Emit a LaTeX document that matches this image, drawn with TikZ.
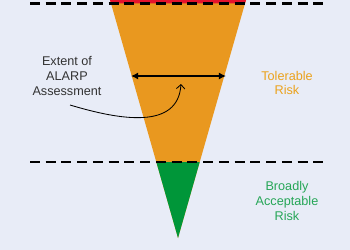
\documentclass[tikz,border=0pt]{standalone}
\usepackage{fontspec}
\setmainfont{Liberation Sans}
\usepackage{tikz}
\usetikzlibrary{arrows.meta,positioning}

\definecolor{bgcol}{HTML}{E8ECF7}
\definecolor{tolorange}{HTML}{E9981F}
\definecolor{accgreen}{HTML}{009639}
\definecolor{intred}{HTML}{E4132D}
\definecolor{txtgray}{HTML}{333333}

\tikzset{
  zoneline/.style={line width=1.5pt,dash pattern=on 7pt off 4.2pt},
  zonelabel/.style={align=center,font=\fontsize{9}{10.6}\selectfont},
}

\begin{document}
\begin{tikzpicture}[x=0.025cm,y=-0.025cm]
  \fill[bgcol] (0,0) rectangle (350,250);
  \useasboundingbox (0,0) rectangle (350,250);
  % funnel of risk regions
  \fill[tolorange] (110,0) -- (246,0) -- (178,238) -- cycle;
  \fill[accgreen] (156.3,162) -- (199.7,162) -- (178,238) -- cycle;
  \fill[intred] (110,0) -- (246,0) -- (245,3.5) -- (111,3.5) -- cycle;
  \draw[zoneline] (30,3.5) -- (326,3.5);
  \draw[zoneline] (30,162) -- (326,162);
  % labels
  \node[zonelabel,txtgray] (alarp) at (67,76) {Extent of\\ALARP\\Assessment};
  \node[zonelabel,tolorange!90!yellow] (tolerable) at (287,83) {Tolerable\\Risk};
  \node[zonelabel,accgreen!85!white] (broadly) at (287,201) {Broadly\\Acceptable\\Risk};
  % extent arrows
  \coordinate (lft) at (131,76);
  \coordinate (rgt) at (226,76);
  \draw[{Latex[length=5pt,width=5pt]}-{Latex[length=5pt,width=5pt]},line width=1.4pt] (lft) -- (rgt);
  \coordinate (tail) at (70,105);
  \coordinate (head) at (181,84);
  \draw[-{Straight Barb[length=3pt]},line width=0.6pt] (tail) .. controls (120,120) and (178,130) .. (head);
\end{tikzpicture}
\end{document}
